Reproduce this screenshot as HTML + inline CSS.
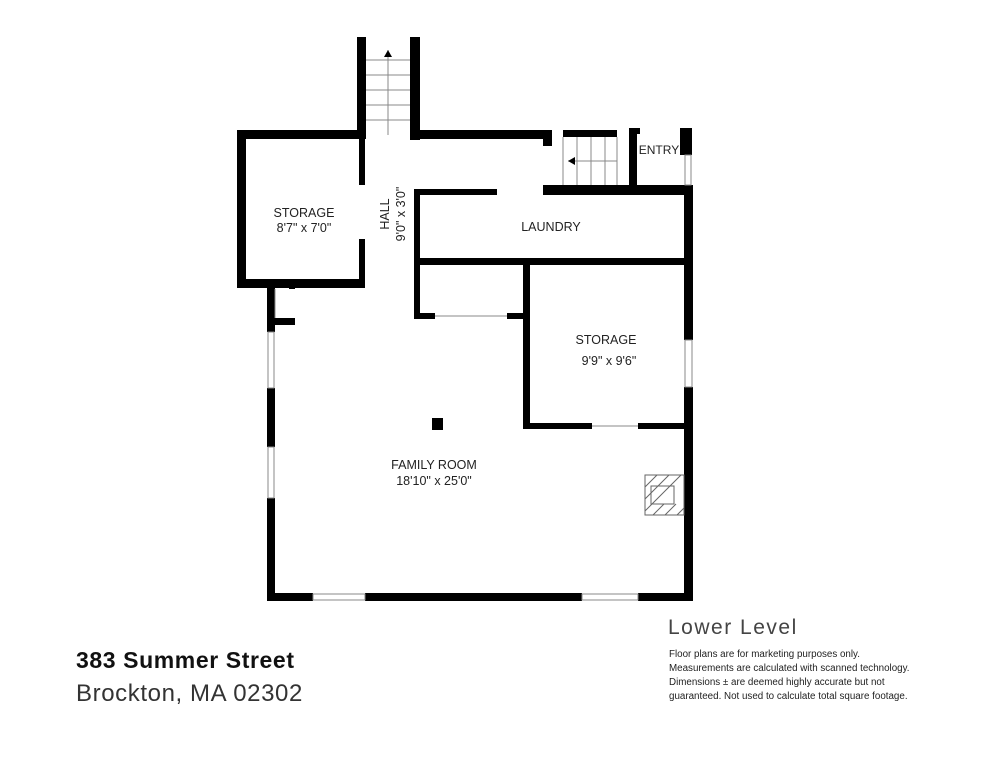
<!DOCTYPE html>
<html><head><meta charset="utf-8"><style>
html,body{margin:0;padding:0;background:#fff;width:994px;height:768px;overflow:hidden}
svg{display:block}
text{font-family:"Liberation Sans",sans-serif;fill:#222}
</style></head><body>
<svg width="994" height="768" viewBox="0 0 994 768">
<g fill="#000">
<rect x="357" y="37" width="9" height="101"/>
<rect x="410" y="37" width="10" height="103"/>
<rect x="237" y="130" width="129" height="9"/>
<rect x="410" y="130" width="142" height="9"/>
<rect x="543" y="130" width="9" height="16"/>
<rect x="237" y="130" width="9" height="158"/>
<rect x="237" y="279" width="128" height="9"/>
<rect x="359" y="139" width="6" height="46"/>
<rect x="359" y="239" width="6" height="49"/>
<rect x="267" y="284" width="8" height="48"/>
<rect x="267" y="388" width="8" height="59"/>
<rect x="267" y="498" width="8" height="103"/>
<rect x="275" y="318" width="20" height="7"/>
<rect x="289" y="285" width="6" height="4"/>
<rect x="414" y="189" width="83" height="6"/>
<rect x="543" y="185" width="150" height="10"/>
<rect x="414" y="189" width="6" height="130"/>
<rect x="414" y="258" width="279" height="7"/>
<rect x="414" y="313" width="21" height="6"/>
<rect x="507" y="313" width="21" height="6"/>
<rect x="523" y="258" width="7" height="171"/>
<rect x="523" y="423" width="69" height="6"/>
<rect x="638" y="423" width="55" height="6"/>
<rect x="684" y="185" width="9" height="155"/>
<rect x="684" y="387" width="9" height="214"/>
<rect x="629" y="128" width="8" height="57"/>
<rect x="629" y="128" width="11" height="6"/>
<rect x="680" y="128" width="12" height="27"/>
<rect x="563" y="130" width="54" height="7"/>
<rect x="267" y="593" width="46" height="8"/>
<rect x="365" y="593" width="217" height="8"/>
<rect x="638" y="593" width="55" height="8"/>
<rect x="432" y="418" width="11" height="12"/>
</g>
<g stroke="#888" stroke-width="1" fill="none">
<line x1="366" y1="60" x2="410" y2="60"/><line x1="366" y1="75" x2="410" y2="75"/>
<line x1="366" y1="90" x2="410" y2="90"/><line x1="366" y1="105" x2="410" y2="105"/>
<line x1="366" y1="120" x2="410" y2="120"/>
<line x1="388" y1="50" x2="388" y2="135"/>
<line x1="563" y1="137" x2="563" y2="185"/><line x1="577" y1="137" x2="577" y2="185"/>
<line x1="591" y1="137" x2="591" y2="185"/><line x1="605" y1="137" x2="605" y2="185"/>
<line x1="617" y1="137" x2="617" y2="185"/>
<line x1="568" y1="161" x2="617" y2="161"/>
<rect x="268" y="332" width="6" height="56"/>
<rect x="268" y="447" width="6" height="51"/>
<rect x="313" y="594" width="52" height="6"/>
<rect x="582" y="594" width="56" height="6"/>
<rect x="685" y="340" width="7" height="47"/>
<rect x="685" y="155" width="6" height="30"/>
<line x1="275" y1="289" x2="275" y2="318"/>
<line x1="435" y1="316" x2="507" y2="316"/>
<line x1="592" y1="426" x2="638" y2="426"/>
<rect x="645" y="475" width="39" height="40" stroke="#666"/>
<rect x="651" y="486" width="23" height="18" stroke="#666"/>
<path d="M645 487 L657 475 M645 499 L669 475 M645 511 L681 475 M653 515 L664 504 M665 515 L676 504 M677 515 L684 508" stroke="#666"/>
</g>
<polygon points="384,57 388,50 392,57" fill="#000"/>
<polygon points="568,161 575,157 575,165" fill="#000"/>
<text x="304" y="217" font-size="12.5" text-anchor="middle">STORAGE</text>
<text x="304" y="232" font-size="12.5" text-anchor="middle">8'7" x 7'0"</text>
<text transform="translate(389,214) rotate(-90)" font-size="12.5" text-anchor="middle">HALL</text>
<text transform="translate(405,214) rotate(-90)" font-size="12.5" text-anchor="middle">9'0" x 3'0"</text>
<text x="551" y="231" font-size="12.5" text-anchor="middle">LAUNDRY</text>
<text x="659" y="154" font-size="12" text-anchor="middle">ENTRY</text>
<text x="606" y="344" font-size="12.5" text-anchor="middle">STORAGE</text>
<text x="609" y="365" font-size="12.5" text-anchor="middle">9'9" x 9'6"</text>
<text x="434" y="469" font-size="12.5" text-anchor="middle">FAMILY ROOM</text>
<text x="434" y="485" font-size="12.5" text-anchor="middle">18'10" x 25'0"</text>
<text x="668" y="634" font-size="21" letter-spacing="1.5" style="fill:#444">Lower Level</text>
<text x="669" y="657" font-size="9.8">Floor plans are for marketing purposes only.</text>
<text x="669" y="671" font-size="9.8">Measurements are calculated with scanned technology.</text>
<text x="669" y="685" font-size="9.8">Dimensions ± are deemed highly accurate but not</text>
<text x="669" y="699" font-size="9.8">guaranteed. Not used to calculate total square footage.</text>
<text x="76" y="668" font-size="23" font-weight="bold" letter-spacing="0.6" style="fill:#111">383 Summer Street</text>
<text x="76" y="701" font-size="24" letter-spacing="0.6" style="fill:#333">Brockton, MA 02302</text>
</svg>
</body></html>
